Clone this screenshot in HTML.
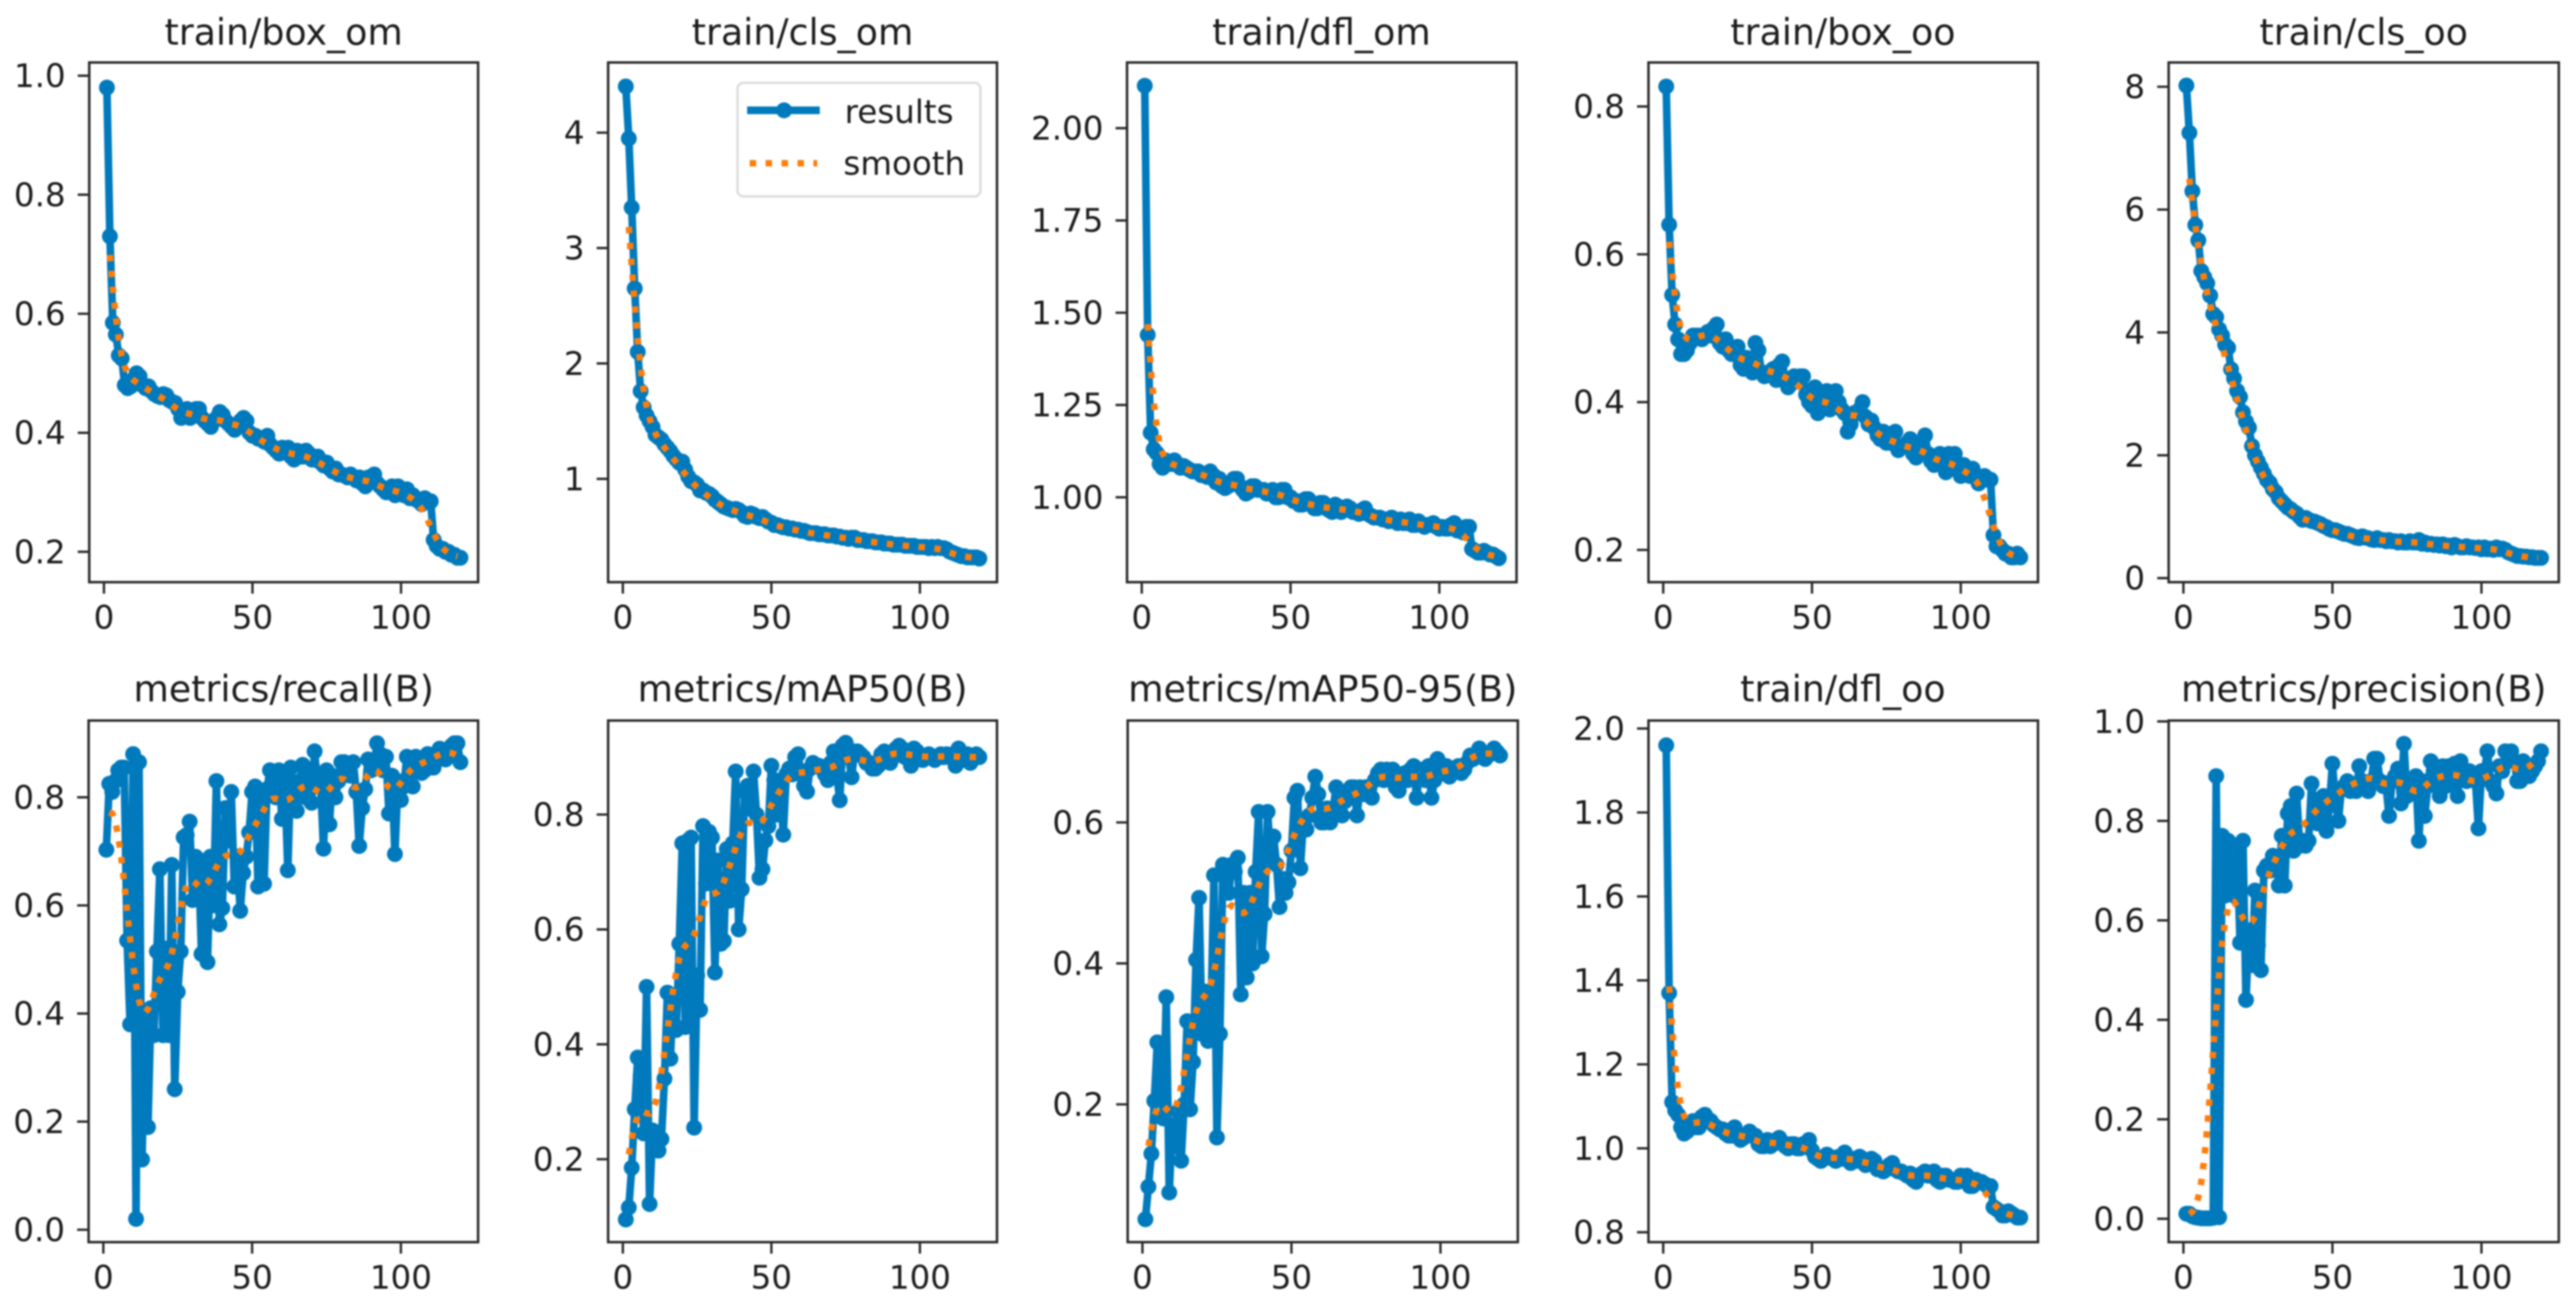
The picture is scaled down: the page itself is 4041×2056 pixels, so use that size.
<!DOCTYPE html>
<html lang="en">
<head>
<meta charset="utf-8">
<title>Training results</title>
<style>
html,body{margin:0;padding:0;background:#fff;width:4041px;height:2056px;overflow:hidden}
svg{display:block;filter:blur(1.4px)}
text{font-family:"DejaVu Sans","Liberation Sans",sans-serif;fill:#1c1c1c}
.title{font-size:57px;text-anchor:middle}
.tick{font-size:51px}
.legend-text{font-size:51px}
.frame{fill:#fff;stroke:#2a2a2a;stroke-width:3.9}
</style>
</head>
<body>
<svg id="chart" xmlns="http://www.w3.org/2000/svg" width="4041" height="2056" viewBox="0 0 4041 2056">
  <rect x="0" y="0" width="4041" height="2056" fill="#fff"/>

  <g id="box-om">
    <rect class="frame" x="140" y="98" width="610" height="815"/>
    <text class="title" x="445" y="70">train/box_om</text>
  </g>
  <g id="cls-om">
    <rect class="frame" x="954" y="98" width="610" height="815"/>
    <text class="title" x="1259" y="70">train/cls_om</text>
  </g>
  <g id="dfl-om">
    <rect class="frame" x="1768" y="98" width="611" height="815"/>
    <text class="title" x="2073" y="70">train/dfl_om</text>
  </g>
  <g id="box-oo">
    <rect class="frame" x="2586" y="98" width="611" height="815"/>
    <text class="title" x="2891" y="70">train/box_oo</text>
  </g>
  <g id="cls-oo">
    <rect class="frame" x="3402" y="98" width="612" height="815"/>
    <text class="title" x="3708" y="70">train/cls_oo</text>
  </g>
  <g id="recall">
    <rect class="frame" x="139" y="1130" width="611" height="818"/>
    <text class="title" x="445" y="1100">metrics/recall(B)</text>
  </g>
  <g id="map50">
    <rect class="frame" x="954" y="1130" width="610" height="818"/>
    <text class="title" x="1259" y="1100">metrics/mAP50(B)</text>
  </g>
  <g id="map5095">
    <rect class="frame" x="1769" y="1130" width="612" height="818"/>
    <text class="title" x="2075" y="1100">metrics/mAP50-95(B)</text>
  </g>
  <g id="dfl-oo">
    <rect class="frame" x="2586" y="1130" width="611" height="818"/>
    <text class="title" x="2891" y="1100">train/dfl_oo</text>
  </g>
  <g id="precision">
    <rect class="frame" x="3402" y="1130" width="612" height="818"/>
    <text class="title" x="3708" y="1100">metrics/precision(B)</text>
  </g>

  <g id="legend">
    <rect x="1157" y="130" width="381" height="178" rx="9" ry="9" fill="#fff" fill-opacity="0.85" stroke="#dcdcdc" stroke-width="3.7"/>
    <line x1="1172" y1="173" x2="1286" y2="173" stroke="#007abd" stroke-width="12"/>
    <circle cx="1230" cy="173" r="12.5" fill="#007abd"/>
    <text class="legend-text" x="1325" y="193">results</text>
    <line x1="1176" y1="256" x2="1282" y2="256" stroke="#ff7d0a" stroke-width="10" stroke-dasharray="10 15"/>
    <text class="legend-text" x="1323" y="274">smooth</text>
  </g>
</svg>

<script>
const xTickLabels = ['0', '50', '100'];
const xLimits = [-4.95, 125.95];

const boxOmValues = [
.98,.73,.585,.565,.53,.525,.48,.475,.478,.49,
.50,.495,.48,.475,.478,.47,.465,.462,.46,.465,
.463,.455,.452,.45,.44,.425,.43,.44,.425,.43,
.44,.44,.425,.42,.415,.41,.42,.425,.435,.43,
.42,.415,.41,.405,.41,.42,.425,.42,.40,.395,
.395,.39,.39,.385,.395,.38,.375,.37,.365,.375,
.37,.375,.36,.355,.37,.36,.36,.37,.365,.355,
.355,.36,.35,.345,.35,.34,.335,.34,.33,.33,
.328,.325,.33,.325,.32,.325,.315,.31,.325,.325,
.33,.315,.31,.305,.30,.305,.31,.295,.31,.305,
.295,.305,.29,.295,.288,.285,.28,.29,.285,.285,
.22,.21,.205,.205,.2,.2,.195,.195,.19,.19];
const boxOmTicks = ['0.2', '0.4', '0.6', '0.8', '1.0'];
const boxOmLimits = [0.149, 1.0222];

const clsOmValues = [
4.4,3.95,3.35,2.65,2.1,1.76,1.62,1.55,1.5,1.45,
1.38,1.36,1.34,1.3,1.27,1.24,1.2,1.17,1.14,1.15,
1.08,1.02,.98,.97,.95,.90,.90,.88,.87,.85,
.82,.80,.78,.76,.75,.74,.73,.74,.73,.71,
.68,.67,.70,.69,.67,.66,.67,.65,.63,.62,
.60,.60,.59,.58,.58,.57,.57,.56,.56,.55,
.55,.54,.53,.53,.53,.52,.52,.52,.51,.51,
.51,.50,.50,.49,.49,.48,.49,.49,.47,.47,
.47,.46,.46,.46,.45,.45,.45,.44,.44,.44,
.43,.43,.43,.43,.42,.42,.42,.42,.41,.41,
.41,.41,.40,.41,.40,.41,.40,.40,.39,.37,
.36,.35,.34,.33,.33,.32,.32,.32,.32,.31];
const clsOmTicks = ['1', '2', '3', '4'];
const clsOmLimits = [0.105, 4.608];

const dflOmValues = [
2.115,1.44,1.175,1.13,1.12,1.09,1.08,1.10,1.09,1.09,
1.10,1.09,1.08,1.085,1.08,1.075,1.07,1.07,1.07,1.06,
1.06,1.055,1.07,1.06,1.04,1.05,1.03,1.025,1.03,1.04,
1.05,1.05,1.03,1.02,1.01,1.015,1.03,1.03,1.02,1.02,
1.02,1.01,1.015,1.02,1.0,1.0,1.02,1.02,1.0,1.0,
.99,.99,.98,.98,.995,.995,.98,.97,.97,.985,
.985,.97,.965,.96,.98,.975,.96,.965,.975,.97,
.96,.96,.955,.965,.97,.955,.95,.945,.945,.945,
.94,.94,.935,.945,.935,.93,.94,.93,.93,.94,
.925,.925,.935,.925,.92,.925,.925,.93,.92,.915,
.92,.915,.915,.925,.93,.91,.91,.905,.92,.92,
.86,.855,.85,.85,.855,.85,.845,.845,.84,.835];
const dflOmTicks = ['1.00', '1.25', '1.50', '1.75', '2.00'];
const dflOmLimits = [0.770, 2.178];

const boxOoValues = [
.827,.64,.545,.505,.485,.465,.465,.47,.48,.49,
.49,.49,.485,.49,.495,.49,.50,.505,.48,.475,
.485,.47,.465,.47,.475,.45,.445,.46,.455,.44,
.48,.47,.44,.435,.44,.44,.445,.43,.45,.455,
.43,.42,.425,.435,.43,.435,.435,.41,.40,.395,
.42,.385,.40,.40,.415,.39,.395,.415,.40,.39,
.385,.36,.37,.385,.385,.39,.40,.38,.37,.375,
.365,.355,.35,.36,.345,.345,.355,.36,.335,.34,
.34,.345,.35,.33,.325,.335,.345,.355,.33,.32,
.315,.325,.33,.315,.305,.33,.32,.33,.31,.30,
.315,.31,.30,.31,.30,.29,.295,.30,.295,.295,
.22,.205,.205,.2,.195,.195,.19,.19,.195,.19];
const boxOoTicks = ['0.2', '0.4', '0.6', '0.8'];
const boxOoLimits = [0.1564, 0.8595];

const clsOoValues = [
8.02,7.25,6.3,5.75,5.5,5.0,4.9,4.8,4.6,4.3,
4.25,4.05,3.95,3.8,3.75,3.4,3.25,3.05,2.95,2.7,
2.55,2.45,2.15,2.0,1.9,1.8,1.7,1.6,1.55,1.45,
1.4,1.3,1.25,1.2,1.15,1.12,1.08,1.05,1.0,.95,
.98,.95,.93,.92,.90,.88,.85,.83,.80,.78,
.78,.76,.74,.72,.72,.70,.68,.66,.65,.68,
.66,.65,.63,.62,.65,.62,.62,.60,.62,.60,
.60,.58,.60,.58,.58,.60,.58,.58,.62,.56,
.58,.55,.56,.54,.55,.53,.55,.52,.53,.50,
.54,.52,.50,.50,.52,.50,.50,.49,.50,.47,
.50,.47,.48,.46,.50,.47,.48,.46,.42,.40,
.38,.36,.36,.35,.35,.34,.34,.33,.33,.33];
const clsOoTicks = ['0', '2', '4', '6', '8'];
const clsOoLimits = [-0.066, 8.395];

const recallValues = [
.703,.825,.81,.83,.85,.855,.855,.535,.38,.88,
.02,.865,.13,.40,.19,.41,.36,.515,.667,.36,
.52,.36,.675,.26,.44,.515,.726,.73,.755,.61,
.69,.685,.51,.68,.495,.69,.60,.83,.565,.595,
.78,.72,.81,.635,.69,.59,.66,.69,.735,.81,
.82,.635,.80,.64,.815,.85,.83,.80,.85,.76,
.83,.665,.855,.78,.775,.83,.86,.80,.84,.79,
.885,.82,.83,.705,.85,.75,.84,.80,.83,.865,
.865,.85,.84,.865,.81,.71,.78,.815,.87,.85,
.86,.90,.88,.85,.875,.77,.84,.695,.83,.795,
.82,.875,.87,.82,.875,.87,.845,.85,.88,.875,
.855,.87,.89,.885,.87,.88,.895,.90,.90,.865];
const recallTicks = ['0.0', '0.2', '0.4', '0.6', '0.8'];
const recallLimits = [-0.0229, 0.942];

const map50Values = [
.095,.116,.185,.287,.377,.345,.245,.50,.122,.25,
.225,.215,.235,.34,.49,.375,.485,.425,.575,.75,
.43,.755,.76,.255,.52,.46,.78,.68,.77,.76,
.525,.72,.575,.58,.74,.65,.75,.875,.60,.67,
.84,.85,.81,.875,.80,.69,.705,.755,.78,.885,
.86,.80,.85,.765,.87,.88,.87,.90,.905,.87,
.85,.84,.88,.89,.885,.885,.88,.87,.86,.89,
.91,.87,.825,.92,.925,.90,.865,.91,.91,.905,
.90,.89,.89,.88,.88,.885,.905,.91,.90,.89,
.90,.915,.92,.915,.90,.91,.885,.915,.91,.90,
.895,.90,.905,.90,.895,.90,.905,.90,.905,.90,
.905,.885,.915,.905,.895,.905,.89,.90,.905,.90];
const map50Ticks = ['0.2', '0.4', '0.6', '0.8'];
const map50Limits = [0.0556, 0.9637];

const map5095Values = [
.037,.083,.13,.205,.288,.25,.18,.352,.075,.17,
.14,.19,.12,.20,.318,.193,.26,.405,.493,.30,
.36,.29,.33,.525,.153,.30,.54,.52,.50,.54,
.53,.55,.356,.50,.38,.50,.40,.53,.615,.41,
.47,.615,.55,.58,.54,.48,.52,.50,.515,.56,
.635,.645,.535,.60,.59,.61,.635,.665,.64,.60,
.60,.62,.60,.62,.65,.62,.61,.63,.64,.65,
.65,.61,.65,.64,.65,.65,.635,.66,.67,.675,
.66,.675,.67,.675,.65,.645,.665,.67,.66,.675,
.68,.635,.675,.67,.66,.68,.635,.66,.69,.675,
.67,.68,.665,.67,.675,.68,.67,.675,.685,.695,
.69,.695,.705,.70,.69,.695,.70,.705,.70,.695];
const map5095Ticks = ['0.2', '0.4', '0.6'];
const map5095Limits = [0.0045, 0.7446];

const dflOoValues = [
1.96,1.37,1.11,1.09,1.08,1.05,1.035,1.04,1.06,1.065,
1.05,1.05,1.075,1.08,1.07,1.065,1.055,1.05,1.045,1.045,
1.035,1.03,1.03,1.05,1.03,1.02,1.025,1.03,1.04,1.03,
1.03,1.01,1.005,1.005,1.02,1.005,1.01,1.02,1.025,1.015,
1.005,1.0,1.01,1.01,1.0,1.0,1.01,1.01,1.02,.995,
.98,.975,.97,.975,.985,.98,.975,.97,.98,.975,
.99,.975,.965,.975,.97,.98,.975,.96,.965,.975,
.97,.95,.95,.945,.95,.96,.965,.95,.945,.945,
.94,.935,.94,.925,.92,.935,.94,.945,.935,.935,
.945,.925,.92,.935,.935,.925,.925,.92,.92,.935,
.925,.935,.91,.91,.925,.92,.92,.915,.91,.91,
.86,.855,.85,.84,.84,.85,.845,.84,.835,.835];
const dflOoTicks = ['0.8', '1.0', '1.2', '1.4', '1.6', '1.8', '2.0'];
const dflOoLimits = [0.7765, 2.019];

const precisionValues = [
.01,.01,.005,.003,.002,.001,.001,.001,.001,.002,
.89,.003,.77,.65,.76,.66,.65,.75,.555,.76,
.44,.58,.51,.66,.55,.50,.70,.71,.70,.73,
.72,.67,.77,.67,.815,.83,.74,.855,.75,.76,
.75,.76,.875,.82,.795,.84,.85,.78,.83,.915,
.84,.80,.865,.87,.88,.86,.87,.86,.91,.88,
.87,.86,.88,.925,.925,.88,.87,.87,.81,.88,
.89,.905,.835,.955,.85,.87,.88,.89,.76,.88,
.81,.87,.92,.91,.89,.85,.91,.87,.91,.89,
.915,.85,.92,.90,.88,.90,.89,.88,.785,.90,
.90,.94,.88,.87,.855,.91,.90,.94,.92,.94,
.92,.88,.88,.92,.89,.89,.90,.91,.92,.94];
const precisionTicks = ['0.0', '0.2', '0.4', '0.6', '0.8', '1.0'];
const precisionLimits = [-0.047, 1.0018];

const panels = [
  ['box-om', boxOmValues, boxOmTicks, boxOmLimits],
  ['cls-om', clsOmValues, clsOmTicks, clsOmLimits],
  ['dfl-om', dflOmValues, dflOmTicks, dflOmLimits],
  ['box-oo', boxOoValues, boxOoTicks, boxOoLimits],
  ['cls-oo', clsOoValues, clsOoTicks, clsOoLimits],
  ['recall', recallValues, recallTicks, recallLimits],
  ['map50', map50Values, map50Ticks, map50Limits],
  ['map5095', map5095Values, map5095Ticks, map5095Limits],
  ['dfl-oo', dflOoValues, dflOoTicks, dflOoLimits],
  ['precision', precisionValues, precisionTicks, precisionLimits]
];

const NS = 'http://www.w3.org/2000/svg';
const BLUE = '#007abd';
const ORANGE = '#ff7d0a';
const LINE_WIDTH = 12;
const SMOOTH_WIDTH = 10;
const MARKER_RADIUS = 12.5;
const SPINE = '#2a2a2a';
// The reference's smooth curve begins two samples in and sits about one epoch to the left.
const SMOOTH_SKIP = 2;
const SMOOTH_SHIFT = 1;

function make(tag) {
  return document.createElementNS(NS, tag);
}

// Gaussian filter (sigma 3, nearest-edge mode) applied to the results series.
function gaussianSmooth(values) {
  const sigma = 3;
  const radius = 12;
  const last = values.length - 1;
  return values.map(function (_, i) {
    let sum = 0;
    let weight = 0;
    for (let k = -radius; k <= radius; k++) {
      const w = Math.exp(-(k * k) / (2 * sigma * sigma));
      sum += w * values[Math.min(last, Math.max(0, i + k))];
      weight += w;
    }
    return sum / weight;
  });
}

function drawPanel(id, values, tickLabels, limits) {
  const group = document.getElementById(id);
  const frame = group.querySelector('rect');
  const left = +frame.getAttribute('x');
  const top = +frame.getAttribute('y');
  const width = +frame.getAttribute('width');
  const height = +frame.getAttribute('height');
  const bottom = top + height;

  const xScale = function (v) {
    return left + (v - xLimits[0]) / (xLimits[1] - xLimits[0]) * width;
  };
  const yScale = function (v) {
    return bottom - (v - limits[0]) / (limits[1] - limits[0]) * height;
  };

  xTickLabels.forEach(function (label) {
    const x = xScale(+label);
    const mark = make('line');
    
    
    mark.setAttribute('x1', x);
    mark.setAttribute('x2', x);
    mark.setAttribute('y1', bottom);
    mark.setAttribute('y2', bottom + 18);
    mark.setAttribute('stroke', SPINE);
    mark.setAttribute('stroke-width', 3.7);
    group.appendChild(mark);
    const text = make('text');
    
    
    text.setAttribute('class', 'tick');
    text.setAttribute('x', x);
    text.setAttribute('y', bottom + 73);
    text.setAttribute('text-anchor', 'middle');
    text.textContent = label;
    group.appendChild(text);
  });

  tickLabels.forEach(function (label) {
    const y = yScale(+label);
    const mark = make('line');
    
    
    mark.setAttribute('x1', left - 18);
    mark.setAttribute('x2', left);
    mark.setAttribute('y1', y);
    mark.setAttribute('y2', y);
    mark.setAttribute('stroke', SPINE);
    mark.setAttribute('stroke-width', 3.7);
    group.appendChild(mark);
    const text = make('text');
    
    
    text.setAttribute('class', 'tick');
    text.setAttribute('x', left - 37);
    text.setAttribute('y', y + 18);
    text.setAttribute('text-anchor', 'end');
    text.textContent = label;
    group.appendChild(text);
  });

  const resultsPoints = values.map(function (v, i) {
    return xScale(i + 1).toFixed(1) + ',' + yScale(v).toFixed(1);
  }).join(' ');

  const resultsLine = make('polyline');
  
  
  resultsLine.setAttribute('points', resultsPoints);
  resultsLine.setAttribute('fill', 'none');
  resultsLine.setAttribute('stroke', BLUE);
  resultsLine.setAttribute('stroke-width', LINE_WIDTH);
  resultsLine.setAttribute('stroke-linejoin', 'round');
  group.appendChild(resultsLine);

  values.forEach(function (v, i) {
    const dot = make('circle');
    
    
    dot.setAttribute('cx', xScale(i + 1).toFixed(1));
    dot.setAttribute('cy', yScale(v).toFixed(1));
    dot.setAttribute('r', MARKER_RADIUS);
    dot.setAttribute('fill', BLUE);
    group.appendChild(dot);
  });

  const smoothPoints = gaussianSmooth(values).map(function (v, i) {
    return xScale(i + 1 - SMOOTH_SHIFT).toFixed(1) + ',' + yScale(v).toFixed(1);
  }).slice(SMOOTH_SKIP).join(' ');

  const smoothLine = make('polyline');
  
  
  smoothLine.setAttribute('points', smoothPoints);
  smoothLine.setAttribute('fill', 'none');
  smoothLine.setAttribute('stroke', ORANGE);
  smoothLine.setAttribute('stroke-width', SMOOTH_WIDTH);
  smoothLine.setAttribute('stroke-dasharray', '10 15');
  group.appendChild(smoothLine);
}

panels.forEach(function (p) {
  drawPanel(p[0], p[1], p[2], p[3]);
});

// Keep the legend above the drawn series.
const chartRoot = document.getElementById('chart');
chartRoot.appendChild(document.getElementById('legend'));
</script>
</body>
</html>
